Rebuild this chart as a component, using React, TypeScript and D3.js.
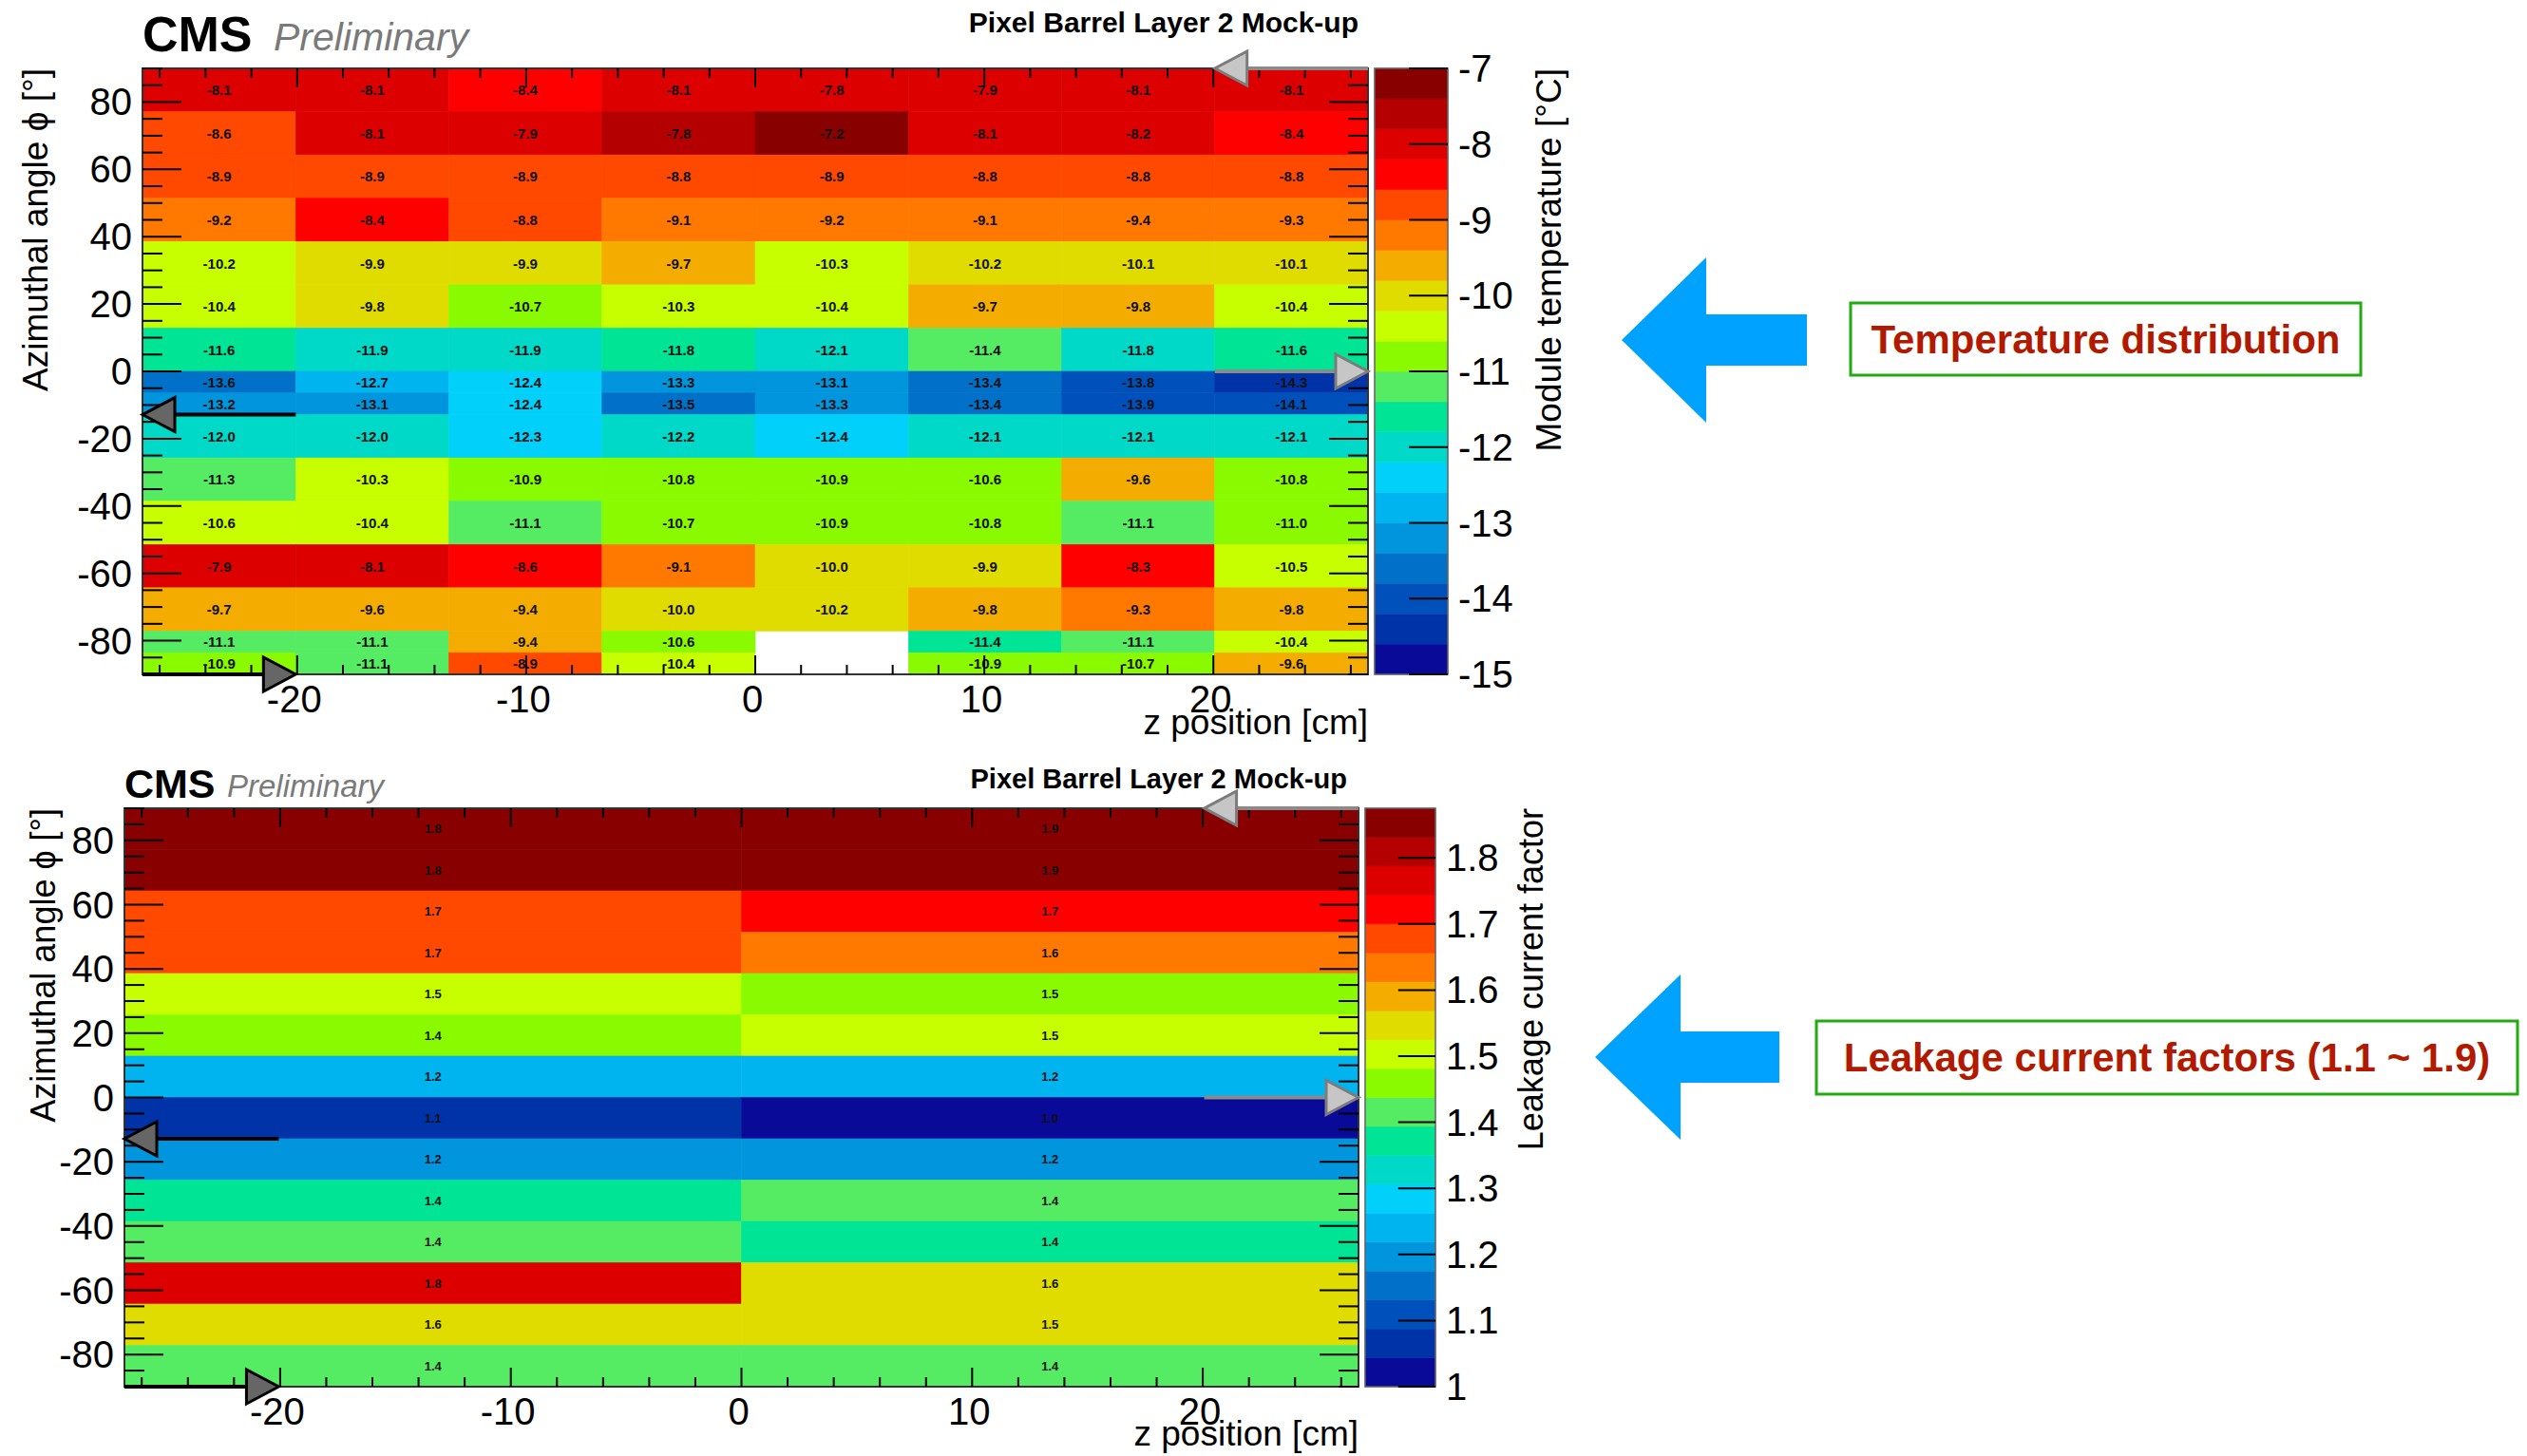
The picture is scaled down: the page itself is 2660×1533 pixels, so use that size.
import React, { useEffect, useRef } from "react";
import * as d3 from "d3";

// ROOT-like rainbow palette, 20 contour bands from low to high
const PALETTE = [
  "#0a0a99", "#0033a8", "#0050bb", "#0070c8", "#0095dc",
  "#00b4f0", "#00d0fa", "#00d8c8", "#00e496", "#55ec64",
  "#8afa00", "#c8ff00", "#e0dc00", "#f5ac00", "#ff7800",
  "#ff4800", "#ff0000", "#dc0000", "#b40000", "#880000",
];

// ---- module temperature map (rows from phi = +90 down to -90) ----
const tempZEdges = [-26.75, -20.06, -13.38, -6.69, 0, 6.69, 13.38, 20.06, 26.75];
const tempPhiEdges = [90, 77.14, 64.29, 51.43, 38.57, 25.71, 12.86, 0, -6.43, -12.86, -25.71, -38.57, -51.43, -64.29, -77.14, -83.57, -90];
const tempValues: (number | null)[][] = [
  [-8.1, -8.1, -8.4, -8.1, -7.82, -7.9, -8.1, -8.1],
  [-8.62, -8.1, -7.9, -7.78, -7.2, -8.1, -8.18, -8.4],
  [-8.9, -8.9, -8.9, -8.8, -8.9, -8.8, -8.8, -8.8],
  [-9.2, -8.4, -8.8, -9.1, -9.2, -9.1, -9.38, -9.3],
  [-10.22, -9.9, -9.9, -9.7, -10.3, -10.18, -10.1, -10.1],
  [-10.4, -9.82, -10.7, -10.3, -10.4, -9.7, -9.78, -10.4],
  [-11.6, -11.9, -11.9, -11.78, -12.1, -11.38, -11.82, -11.6],
  [-13.6, -12.7, -12.4, -13.3, -13.1, -13.42, -13.82, -14.3],
  [-13.2, -13.1, -12.4, -13.5, -13.3, -13.42, -13.9, -14.1],
  [-12.0, -12.0, -12.3, -12.18, -12.4, -12.1, -12.1, -12.1],
  [-11.3, -10.3, -10.9, -10.8, -10.9, -10.62, -9.6, -10.8],
  [-10.58, -10.4, -11.1, -10.7, -10.9, -10.8, -11.1, -10.98],
  [-7.9, -8.1, -8.58, -9.1, -10.0, -9.9, -8.3, -10.5],
  [-9.7, -9.6, -9.42, -10.0, -10.18, -9.78, -9.3, -9.78],
  [-11.1, -11.1, -9.42, -10.62, null, -11.42, -11.1, -10.4],
  [-10.9, -11.1, -8.9, -10.4, null, -10.9, -10.7, -9.6],
];
const tempRange = [-15, -7];
const tempTicks = [-15, -14, -13, -12, -11, -10, -9, -8, -7];

// ---- leakage current factor map ----
const leakZEdges = [-26.75, 0, 26.75];
const leakPhiEdges = [90, 77.14, 64.29, 51.43, 38.57, 25.71, 12.86, 0, -12.86, -25.71, -38.57, -51.43, -64.29, -77.14, -90];
const leakValues: (number | null)[][] = [
  [1.84, 1.87], [1.84, 1.87], [1.68, 1.72], [1.67, 1.63], [1.5, 1.46],
  [1.44, 1.49], [1.23, 1.24], [1.06, 1.02], [1.19, 1.2], [1.37, 1.41],
  [1.42, 1.38], [1.76, 1.56], [1.56, 1.53], [1.42, 1.41],
];
const leakRange = [1.0, 1.875];
const leakTicks = [1, 1.1, 1.2, 1.3, 1.4, 1.5, 1.6, 1.7, 1.8];

const phiTickLabels = [-80, -60, -40, -20, 0, 20, 40, 60, 80];
const zTickLabels = [-20, -10, 0, 10, 20];

// cooling arrows drawn on both maps: [z, phi] from -> to
const flowArrows = [
  { from: [26.75, 90], to: [20.06, 90], dark: false },
  { from: [20.06, 0], to: [26.75, 0], dark: false },
  { from: [-20.06, -12.86], to: [-26.75, -12.86], dark: true },
  { from: [-26.75, -90], to: [-20.06, -90], dark: true },
];

const FONT = "'Liberation Sans', Arial, Helvetica, sans-serif";

function tArrow(g: any, x1: number, y1: number, x2: number, y2: number, dark: boolean) {
  const headLen = 34, half = 18;
  const ang = Math.atan2(y2 - y1, x2 - x1);
  const bx = x2 - headLen * Math.cos(ang), by = y2 - headLen * Math.sin(ang);
  g.append("line")
    .attr("x1", x1).attr("y1", y1).attr("x2", bx).attr("y2", by)
    .attr("stroke", dark ? "#000" : "#8a8a8a").attr("stroke-width", 4);
  const px = -Math.sin(ang) * half, py = Math.cos(ang) * half;
  g.append("polygon")
    .attr("points", `${x2},${y2} ${bx + px},${by + py} ${bx - px},${by - py}`)
    .attr("fill", dark ? "#666" : "#c6c6c6")
    .attr("stroke", dark ? "#000" : "#7c7c7c")
    .attr("stroke-width", 3);
}

function drawPanel(svg: any, p: any) {
  const g = svg.append("g").style("font-family", FONT);
  const f = p.frame;
  const x = d3.scaleLinear().domain([p.zEdges[0], p.zEdges[p.zEdges.length - 1]]).range([f.x0, f.x1]);
  const y = d3.scaleLinear().domain([-90, 90]).range([f.y1, f.y0]);
  const nb = PALETTE.length;
  const thresholds = d3.range(1, nb).map((i) => p.zRange[0] + ((p.zRange[1] - p.zRange[0]) * i) / nb);
  const color = d3.scaleThreshold<number, string>().domain(thresholds).range(PALETTE);

  const cells: { r: number; c: number; v: number }[] = [];
  p.values.forEach((row: (number | null)[], r: number) =>
    row.forEach((v, c) => { if (v !== null) cells.push({ r, c, v }); })
  );

  g.selectAll("rect.cell").data(cells).join("rect")
    .attr("class", "cell")
    .attr("x", (d: any) => x(p.zEdges[d.c]))
    .attr("y", (d: any) => y(p.phiEdges[d.r]))
    .attr("width", (d: any) => x(p.zEdges[d.c + 1]) - x(p.zEdges[d.c]))
    .attr("height", (d: any) => y(p.phiEdges[d.r + 1]) - y(p.phiEdges[d.r]))
    .attr("fill", (d: any) => color(d.v))
    .attr("stroke", (d: any) => color(d.v))
    .attr("stroke-width", 0.6);

  g.selectAll("text.cell").data(cells).join("text")
    .attr("class", "cell")
    .attr("x", (d: any) => (x(p.zEdges[d.c]) + x(p.zEdges[d.c + 1])) / 2)
    .attr("y", (d: any) => (y(p.phiEdges[d.r]) + y(p.phiEdges[d.r + 1])) / 2)
    .attr("text-anchor", "middle")
    .attr("dominant-baseline", "central")
    .attr("font-size", p.cellFont)
    .attr("font-weight", "bold")
    .attr("fill", "#111")
    .text((d: any) => d.v.toFixed(1));

  // frame
  g.append("rect")
    .attr("x", f.x0).attr("y", f.y0).attr("width", f.x1 - f.x0).attr("height", f.y1 - f.y0)
    .attr("fill", "none").attr("stroke", "#333").attr("stroke-width", 2);

  // phi ticks on both sides
  d3.range(-90, 91, 5).forEach((v) => {
    const len = v % 20 === 0 ? 41 : 21;
    g.append("line").attr("x1", f.x0).attr("x2", f.x0 + len).attr("y1", y(v)).attr("y2", y(v))
      .attr("stroke", "#000").attr("stroke-width", 2);
    g.append("line").attr("x1", f.x1 - len).attr("x2", f.x1).attr("y1", y(v)).attr("y2", y(v))
      .attr("stroke", "#000").attr("stroke-width", 2);
  });
  // z ticks on top and bottom
  d3.range(-26, 27, 2).forEach((v) => {
    const len = v % 10 === 0 ? 20 : 10;
    g.append("line").attr("x1", x(v)).attr("x2", x(v)).attr("y1", f.y1 - len).attr("y2", f.y1)
      .attr("stroke", "#000").attr("stroke-width", 2);
    g.append("line").attr("x1", x(v)).attr("x2", x(v)).attr("y1", f.y0).attr("y2", f.y0 + len)
      .attr("stroke", "#000").attr("stroke-width", 2);
  });

  g.selectAll("text.ylab").data(phiTickLabels).join("text")
    .attr("class", "ylab")
    .attr("x", f.x0 - 11).attr("y", (d: number) => y(d))
    .attr("text-anchor", "end").attr("dominant-baseline", "central")
    .attr("font-size", 40).text((d: number) => String(d));

  g.selectAll("text.xlab").data(zTickLabels).join("text")
    .attr("class", "xlab")
    .attr("x", (d: number) => x(d) - 3).attr("y", f.y1 + 40)
    .attr("text-anchor", "middle")
    .attr("font-size", 40).text((d: number) => String(d));

  g.append("text")
    .attr("x", f.x1).attr("y", p.xTitleY)
    .attr("text-anchor", "end").attr("font-size", 37)
    .text("z position [cm]");

  g.append("text")
    .attr("transform", `translate(${p.yTitleX},${f.y0}) rotate(-90)`)
    .attr("text-anchor", "end").attr("font-size", p.yTitleFont)
    .text("Azimuthal angle \u03d5 [\u00b0]");

  // colour bar
  const b = p.bar;
  const zy = d3.scaleLinear().domain(p.zRange).range([f.y1, f.y0]);
  const bands = d3.range(nb).map((i) => [
    p.zRange[0] + ((p.zRange[1] - p.zRange[0]) * i) / nb,
    p.zRange[0] + ((p.zRange[1] - p.zRange[0]) * (i + 1)) / nb,
  ]);
  g.selectAll("rect.band").data(bands).join("rect")
    .attr("class", "band")
    .attr("x", b.x0).attr("width", b.x1 - b.x0)
    .attr("y", (d: number[]) => zy(d[1]))
    .attr("height", (d: number[]) => zy(d[0]) - zy(d[1]))
    .attr("fill", (_: any, i: number) => PALETTE[i])
    .attr("stroke", (_: any, i: number) => PALETTE[i])
    .attr("stroke-width", 0.6);
  g.append("rect")
    .attr("x", b.x0).attr("y", f.y0).attr("width", b.x1 - b.x0).attr("height", f.y1 - f.y0)
    .attr("fill", "none").attr("stroke", "#666").attr("stroke-width", 1.5);
  p.zTicks.forEach((t: number) => {
    g.append("line").attr("x1", b.x1 - (b.x1 - b.x0) * 0.53).attr("x2", b.x1)
      .attr("y1", zy(t)).attr("y2", zy(t)).attr("stroke", "#000").attr("stroke-width", 2);
  });
  g.selectAll("text.zlab").data(p.zTicks).join("text")
    .attr("class", "zlab")
    .attr("x", b.x1 + 11).attr("y", (d: number) => zy(d))
    .attr("dominant-baseline", "central").attr("font-size", 40)
    .text((d: number) => String(d));
  g.append("text")
    .attr("transform", `translate(${p.barTitleX},${f.y0}) rotate(-90)`)
    .attr("text-anchor", "end").attr("font-size", p.barTitleFont)
    .text(p.barTitle);

  // headers
  g.append("text").attr("x", f.x0).attr("y", p.header.cmsY)
    .attr("font-size", p.header.cmsFont).attr("font-weight", "bold").text("CMS");
  g.append("text").attr("x", p.header.prelimX).attr("y", p.header.cmsY - 1)
    .attr("font-size", p.header.prelimFont).attr("font-style", "italic").attr("fill", "#7a7a7a")
    .text("Preliminary");
  g.append("text").attr("x", p.header.titleX).attr("y", p.header.titleY)
    .attr("text-anchor", "end").attr("font-size", p.header.titleFont).attr("font-weight", "bold")
    .text("Pixel Barrel Layer 2 Mock-up");

  flowArrows.forEach((a) => tArrow(g, x(a.from[0]), y(a.from[1]), x(a.to[0]), y(a.to[1]), a.dark));
}

function callout(svg: any, c: any) {
  const g = svg.append("g").style("font-family", FONT);
  const pts = [
    [c.tipX, c.tipY], [c.headX, c.tipY - c.headHalf], [c.headX, c.tipY - c.shaftHalf],
    [c.endX, c.tipY - c.shaftHalf], [c.endX, c.tipY + c.shaftHalf], [c.headX, c.tipY + c.shaftHalf],
    [c.headX, c.tipY + c.headHalf],
  ];
  g.append("polygon").attr("points", pts.map((q) => q.join(",")).join(" ")).attr("fill", "#00a2ff");
  g.append("rect").attr("x", c.box[0]).attr("y", c.box[1]).attr("width", c.box[2] - c.box[0])
    .attr("height", c.box[3] - c.box[1]).attr("fill", "#fff").attr("stroke", "#22aa11").attr("stroke-width", 3);
  g.append("text").attr("x", (c.box[0] + c.box[2]) / 2).attr("y", (c.box[1] + c.box[3]) / 2)
    .attr("text-anchor", "middle").attr("dominant-baseline", "central")
    .attr("font-size", 42).attr("font-weight", "bold").attr("fill", "#b21a00")
    .text(c.text);
}

export default function App() {
  const ref = useRef<SVGSVGElement>(null);

  useEffect(() => {
    const svg = d3.select(ref.current);
    svg.selectAll("*").remove();

    drawPanel(svg, {
      frame: { x0: 150, x1: 1440, y0: 72, y1: 710 },
      bar: { x0: 1447, x1: 1524 },
      zEdges: tempZEdges, phiEdges: tempPhiEdges, values: tempValues,
      zRange: tempRange, zTicks: tempTicks, cellFont: 15,
      xTitleY: 773, yTitleX: 50, yTitleFont: 37,
      barTitle: "Module temperature [\u00b0C]", barTitleX: 1643, barTitleFont: 37,
      header: { cmsY: 54, cmsFont: 52, prelimX: 288, prelimFont: 41, titleX: 1430, titleY: 34, titleFont: 30 },
    });

    drawPanel(svg, {
      frame: { x0: 131, x1: 1430, y0: 851, y1: 1460 },
      bar: { x0: 1437, x1: 1511 },
      zEdges: leakZEdges, phiEdges: leakPhiEdges, values: leakValues,
      zRange: leakRange, zTicks: leakTicks, cellFont: 13,
      xTitleY: 1522, yTitleX: 58, yTitleFont: 36,
      barTitle: "Leakage current factor", barTitleX: 1624, barTitleFont: 36,
      header: { cmsY: 840, cmsFont: 43, prelimX: 239, prelimFont: 33, titleX: 1418, titleY: 830, titleFont: 29 },
    });

    callout(svg, {
      tipX: 1707, tipY: 358, headX: 1796, headHalf: 87, shaftHalf: 27, endX: 1902,
      box: [1948, 319, 2485, 395], text: "Temperature distribution",
    });
    callout(svg, {
      tipX: 1679, tipY: 1113, headX: 1769, headHalf: 87, shaftHalf: 27, endX: 1873,
      box: [1912, 1075, 2650, 1152], text: "Leakage current factors (1.1 ~ 1.9)",
    });
  }, []);

  return (
    <svg
      ref={ref}
      width={2660}
      height={1533}
      style={{ position: "absolute", left: 0, top: 0, background: "#fff" }}
    />
  );
}
